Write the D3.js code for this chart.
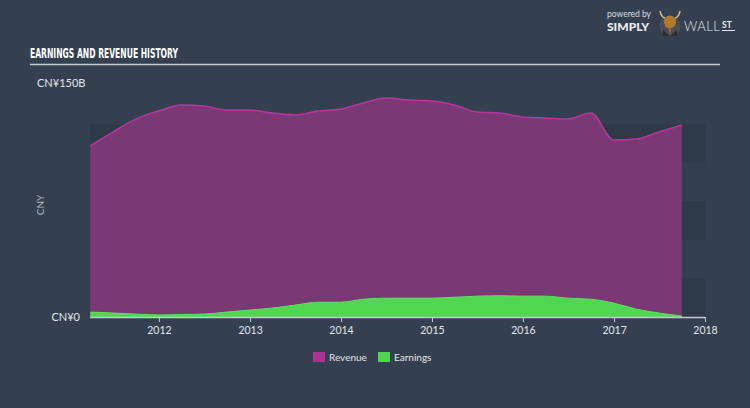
<!DOCTYPE html>
<html><head><meta charset="utf-8">
<script src="https://cdn.jsdelivr.net/npm/d3@7/dist/d3.min.js"></script>
<style>
html,body{margin:0;padding:0;background:#344050;}
svg{display:block;}
</style></head>
<body>
<svg id="chart" width="750" height="408"></svg>
<script>
// Data: quarterly, trailing twelve months (CNY billions)
const dates = ["2011-03-31","2011-06-30","2011-09-30","2011-12-31","2012-03-31","2012-06-30","2012-09-30","2012-12-31",
  "2013-03-31","2013-06-30","2013-09-30","2013-12-31","2014-03-31","2014-06-30","2014-09-30","2014-12-31",
  "2015-03-31","2015-06-30","2015-09-30","2015-12-31","2016-03-31","2016-06-30","2016-09-30","2016-12-31",
  "2017-03-31","2017-06-30","2017-09-30"];
const revenue = [110.8,119.8,128.2,133.4,137.3,136.7,134.1,134.1,132.1,130.8,133.4,134.7,138.6,141.8,140.5,139.9,
  137.3,132.8,132.1,129.5,128.9,128.2,132.1,114.6,115.3,119.8,124.4];
const earnings = [3.2,2.6,1.9,1.3,1.6,1.9,3.2,4.5,5.8,7.7,9.6,9.6,11.5,12.2,12.2,12.2,12.8,13.5,13.8,13.5,13.5,12.2,
  11.5,9.0,5.1,2.6,0.6];
const xTicks = [2012,2013,2014,2015,2016,2017,2018];
const yLabels = ["CN¥0","CN¥150B"];
const bands = [[0,25],[50,75],[100,125]];
const legendItems = ["Revenue","Earnings"];

const svg = d3.select("#chart");
const parse = d3.timeParse("%Y-%m-%d");
const data = dates.map((d,i)=>({date:parse(d), rev:revenue[i], earn:earnings[i]}));

const x = d3.scaleTime().domain([new Date(2011,0,1), new Date(2018,0,1)]).range([68,705]);
const y = d3.scaleLinear().domain([0,150]).range([317,85.4]);
const plotLeft = x(data[0].date), plotRight = 705;

// background
svg.append("rect").attr("width",750).attr("height",408).attr("fill","#344050");

// bands
svg.append("rect").attr("x",plotLeft).attr("y",y(125)).attr("width",plotRight-plotLeft).attr("height",y(0)-y(125)).attr("fill","#333f4e");
svg.selectAll(".band").data(bands).enter().append("rect")
  .attr("x",plotLeft).attr("width",plotRight-plotLeft)
  .attr("y",d=>y(d[1])).attr("height",d=>y(d[0])-y(d[1]))
  .attr("fill","#2e3a48");

// title
svg.append("text").attr("x",30).attr("y",58).text("EARNINGS AND REVENUE HISTORY")
  .attr("font-family","'DejaVu Sans Condensed','Liberation Sans Narrow',sans-serif").attr("font-weight","bold")
  .attr("font-size",14.5).attr("fill","#ffffff")
  .attr("textLength",148).attr("lengthAdjust","spacingAndGlyphs");
svg.append("line").attr("x1",30).attr("x2",720).attr("y1",64.5).attr("y2",64.5)
  .attr("stroke","#c5cad2").attr("stroke-width",1.5);

// logo
const logo = svg.append("g");
logo.append("text").attr("x",607).attr("y",16.5).text("powered by").attr("font-family","Lato,sans-serif").attr("font-size",8.5).attr("fill","#d8dce2");
logo.append("text").attr("x",607).attr("y",31).text("SIMPLY").attr("font-family","Lato,sans-serif").attr("font-weight","900").attr("font-size",12).attr("fill","#e8eaee");
logo.append("circle").attr("cx",670).attr("cy",26).attr("r",10.5).attr("fill","#4a4f56");
logo.append("path").attr("d","M663,30 L670,36 L677,30 L677,36 L663,36 Z").attr("fill","#2a2d33");
logo.append("ellipse").attr("cx",670).attr("cy",22).attr("rx",6).attr("ry",6.5).attr("fill","#b07a2c");
logo.append("path").attr("d","M660,11 Q661,17 665,18 M680,11 Q679,17 675,18").attr("stroke","#e0c090").attr("stroke-width",1.5).attr("fill","none");
logo.append("path").attr("d","M669,29 L671,29 L670,35 Z").attr("fill","#e06020");
logo.append("text").attr("x",684).attr("y",31).text("WALL").attr("font-family","Lato,sans-serif").attr("font-weight","300").attr("font-size",13).attr("fill","#e8eaee").attr("letter-spacing",0.5);
logo.append("text").attr("x",722).attr("y",28).text("ST").attr("font-family","Lato,sans-serif").attr("font-weight","bold").attr("font-size",8.5).attr("fill","#e8eaee");
logo.append("line").attr("x1",722).attr("x2",735).attr("y1",30.5).attr("y2",30.5).attr("stroke","#e8eaee").attr("stroke-width",1);

// areas
const revArea = d3.area().x(d=>x(d.date)).y0(y(0)).y1(d=>y(d.rev)).curve(d3.curveMonotoneX);
const revLine = d3.line().x(d=>x(d.date)).y(d=>y(d.rev)).curve(d3.curveMonotoneX);
const earnArea = d3.area().x(d=>x(d.date)).y0(y(0)).y1(d=>y(d.earn)).curve(d3.curveMonotoneX);
const earnLine = d3.line().x(d=>x(d.date)).y(d=>y(d.earn)).curve(d3.curveMonotoneX);

svg.append("path").datum(data).attr("d",revArea).attr("fill","#7a3874");
svg.append("path").datum(data).attr("d",revLine).attr("fill","none").attr("stroke","#b8379e").attr("stroke-width",1.5);
svg.append("path").datum(data).attr("d",earnArea).attr("fill","#50d651");
svg.append("path").datum(data).attr("d",earnLine).attr("fill","none").attr("stroke","#5be35c").attr("stroke-width",1);

// x axis
const xAxis = d3.axisBottom(x).tickValues(xTicks.map(t=>new Date(t,0,1))).tickFormat(d3.timeFormat("%Y")).tickSize(5).tickSizeOuter(0);
const gx = svg.append("g").attr("transform",`translate(0,${y(0)})`).call(xAxis);
gx.select(".domain").remove();
gx.append("line").attr("x1",plotLeft).attr("x2",plotRight).attr("y1",0.5).attr("y2",0.5).attr("stroke","#c5cad2").attr("stroke-width",1.5);
gx.selectAll(".tick line").attr("stroke","#c5cad2").attr("stroke-width",1);
gx.selectAll(".tick text").attr("fill","#e2e5ea").attr("font-family","Lato,sans-serif").attr("font-size",10.5).attr("dy","0.9em");

// y labels
svg.append("text").attr("x",80).attr("y",y(0)).attr("dy","0.35em").attr("text-anchor","end").text(yLabels[0])
  .attr("fill","#e2e5ea").attr("font-family","Lato,sans-serif").attr("font-size",11);
svg.append("text").attr("x",37).attr("y",83).attr("dy","0.35em").text(yLabels[1])
  .attr("fill","#e2e5ea").attr("font-family","Lato,sans-serif").attr("font-size",11);
svg.append("text").attr("transform","translate(44,205) rotate(-90)").attr("text-anchor","middle").text("CNY")
  .attr("fill","#aeb4bd").attr("font-family","Lato,sans-serif").attr("font-size",10);

// legend
const legColors = ["#a8348f","#50d651"];
const legX = [313,378];
legendItems.forEach((name,i)=>{
  svg.append("rect").attr("x",legX[i]).attr("y",352).attr("width",12).attr("height",10).attr("fill",legColors[i]);
  svg.append("text").attr("x",legX[i]+16).attr("y",357).attr("dy","0.35em").text(name)
    .attr("fill","#e2e5ea").attr("font-family","Lato,sans-serif").attr("font-size",10);
});
</script>
</body></html>
